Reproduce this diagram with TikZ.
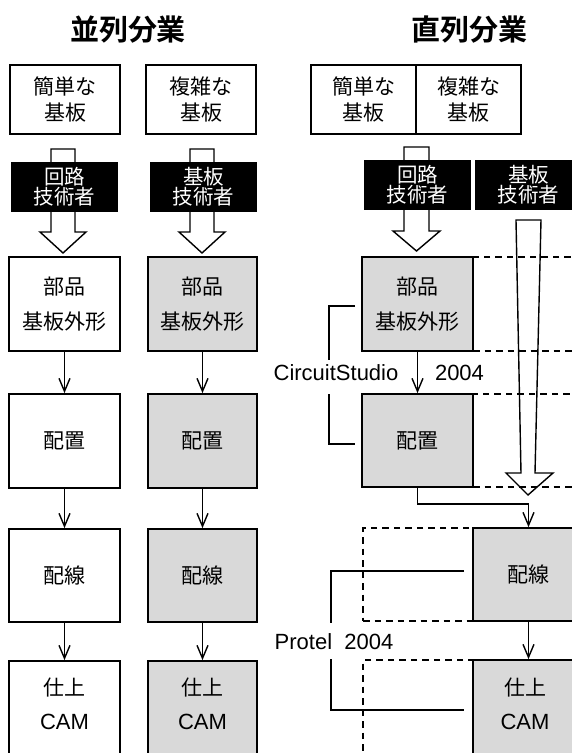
\documentclass[tikz,border=0pt]{standalone}
\usepackage{fontspec}
\setmainfont{Liberation Sans}
\newfontfamily\jp{Noto Sans CJK JP}[BoldFont=* Bold]
\usetikzlibrary{arrows.meta}
\definecolor{boxgray}{HTML}{D9D9D9}
\tikzset{
  box/.style={draw, line width=1.8pt, inner sep=0pt, align=center,
    font=\jp\fontsize{21}{26}\selectfont},
  graybox/.style={box, fill=boxgray},
  slot/.style={draw, dash pattern=on 6.5pt off 5pt, line width=1.4pt, inner sep=0pt},
  bar/.style={fill=black, text=white, inner sep=0pt, minimum width=107pt,
    minimum height=50pt, align=center, font=\jp\fontsize{20.5}{20}\selectfont},
  flow/.style={line width=1.4pt, -{Straight Barb[length=13pt,width=11pt,line width=1.4pt]}},
  hollow/.style={draw, line width=1.4pt, fill=white, line join=miter},
  bracket/.style={line width=1.4pt},
  titletext/.style={font=\jp\bfseries\fontsize{29}{29}\selectfont, inner sep=0pt},
  lbl/.style={font=\fontsize{22}{22}\selectfont, inner sep=0pt},
  intext/.style={inner sep=0pt, align=center, font=\jp\fontsize{21}{35}\selectfont},
}
\begin{document}
\begin{tikzpicture}[x=1pt,y=-1pt]
\useasboundingbox (0,0) rectangle (572,753);
\clip (0,0) rectangle (572,753);

% titles
\node[titletext] (title1) at (128,30) {並列分業};
\node[titletext] (title2) at (469,30) {直列分業};

% ---------- parallel: column 1 ----------
\node[box, minimum width=110pt, minimum height=69pt] (a1) at (65,99.5) {簡単な\\基板};
\draw[hollow] (51,149) -- (75,149) -- (75,232) -- (86,232) -- (63,253) -- (40,232) -- (51,232) -- cycle;
\node[bar] (abar) at (64.5,187) {回路\\技術者};
\node[box, minimum width=111pt, minimum height=94pt, font=\jp\fontsize{21}{35}\selectfont] (a2) at (64.5,304) {部品\\基板外形};
\node[box, minimum width=111pt, minimum height=94pt] (a3) at (64.5,441) {配置};
\node[box, minimum width=111pt, minimum height=93pt] (a4) at (64.5,575.5) {配線};
\node[box, minimum width=111pt, minimum height=110pt] (a5) at (64.5,716) {};
\node[intext] (a5t) at (64.5,704) {仕上\\[-1pt]{\fontsize{22}{22}\selectfont\rmfamily CAM}};
\draw[flow] (a2.south) -- (a3.north);
\draw[flow] (a3.south) -- (a4.north);
\draw[flow] (a4.south) -- (a5.north);

% ---------- parallel: column 2 ----------
\node[box, minimum width=110pt, minimum height=69pt] (b1) at (201,99.5) {複雑な\\基板};
\draw[hollow] (190,149) -- (214,149) -- (214,232) -- (225,232) -- (202,253) -- (179,232) -- (190,232) -- cycle;
\node[bar] (bbar) at (203.5,187) {基板\\技術者};
\node[graybox, minimum width=109pt, minimum height=94pt, font=\jp\fontsize{21}{35}\selectfont] (b2) at (202.5,304) {部品\\基板外形};
\node[graybox, minimum width=109pt, minimum height=94pt] (b3) at (202.5,441) {配置};
\node[graybox, minimum width=109pt, minimum height=93pt] (b4) at (202.5,575.5) {配線};
\node[graybox, minimum width=109pt, minimum height=110pt] (b5) at (202.5,716) {};
\node[intext] (b5t) at (202.5,704) {仕上\\[-1pt]{\fontsize{22}{22}\selectfont\rmfamily CAM}};
\draw[flow] (b2.south) -- (b3.north);
\draw[flow] (b3.south) -- (b4.north);
\draw[flow] (b4.south) -- (b5.north);

% ---------- serial ----------
\node[box, minimum width=105pt, minimum height=69pt] (c1) at (363.5,99.5) {簡単な\\基板};
\node[box, minimum width=105pt, minimum height=69pt] (d1) at (468.5,99.5) {複雑な\\基板};
\draw[hollow] (404,147) -- (429,147) -- (429,231) -- (440,231) -- (416.5,251) -- (393,231) -- (404,231) -- cycle;
\node[bar] (cbar) at (417.5,185) {回路\\技術者};
\node[bar] (dbar) at (528.5,185) {基板\\技術者};

% empty slots (dashed)
\node[slot, minimum width=111pt, minimum height=94pt] (d2) at (528.5,304) {};
\node[slot, minimum width=111pt, minimum height=93pt] (d3) at (528.5,440.5) {};
\node[slot, minimum width=110pt, minimum height=93pt] (c4) at (418,574.5) {};
\node[slot, minimum width=110pt, minimum height=110pt] (c5) at (418,715) {};

\node[graybox, minimum width=111pt, minimum height=94pt, font=\jp\fontsize{21}{35}\selectfont] (c2) at (417.5,304) {部品\\基板外形};
\node[graybox, minimum width=111pt, minimum height=93pt] (c3) at (417.5,440.5) {配置};
\node[graybox, minimum width=111pt, minimum height=93pt] (d4) at (528.5,574.5) {配線};
\node[graybox, minimum width=111pt, minimum height=110pt] (d5) at (528.5,715) {};
\node[intext] (d5t) at (525,704) {仕上\\[-1pt]{\fontsize{22}{22}\selectfont\rmfamily CAM}};

% long hollow arrow of the board engineer
\draw[line width=1.4pt, line join=miter] (516,220) -- (541,220) -- (535,473) -- (553,473) -- (528,495) -- (506,473) -- (521,473) -- cycle;

\draw[flow] (c2.south) -- (c3.north);
\draw[flow] (c3.south) -- ++(0,16) -| (d4.north);
\draw[flow] (d4.south) -- (d5.north);

% CircuitStudio bracket
\node[lbl] (cs) at (336,373) {CircuitStudio};
\node[lbl] (csy) at (459.5,373) {2004};
\draw[bracket] (355,306) -- (329,306) -- (329,360);
\draw[bracket] (329,394) -- (329,444) -- (355,444);

% Protel bracket
\node[lbl] (pr) at (334,642) {Protel\ \ 2004};
\draw[bracket] (464,571) -- (331,571) -- (331,623);
\draw[bracket] (331,659) -- (331,710) -- (464,710);
\end{tikzpicture}
\end{document}
